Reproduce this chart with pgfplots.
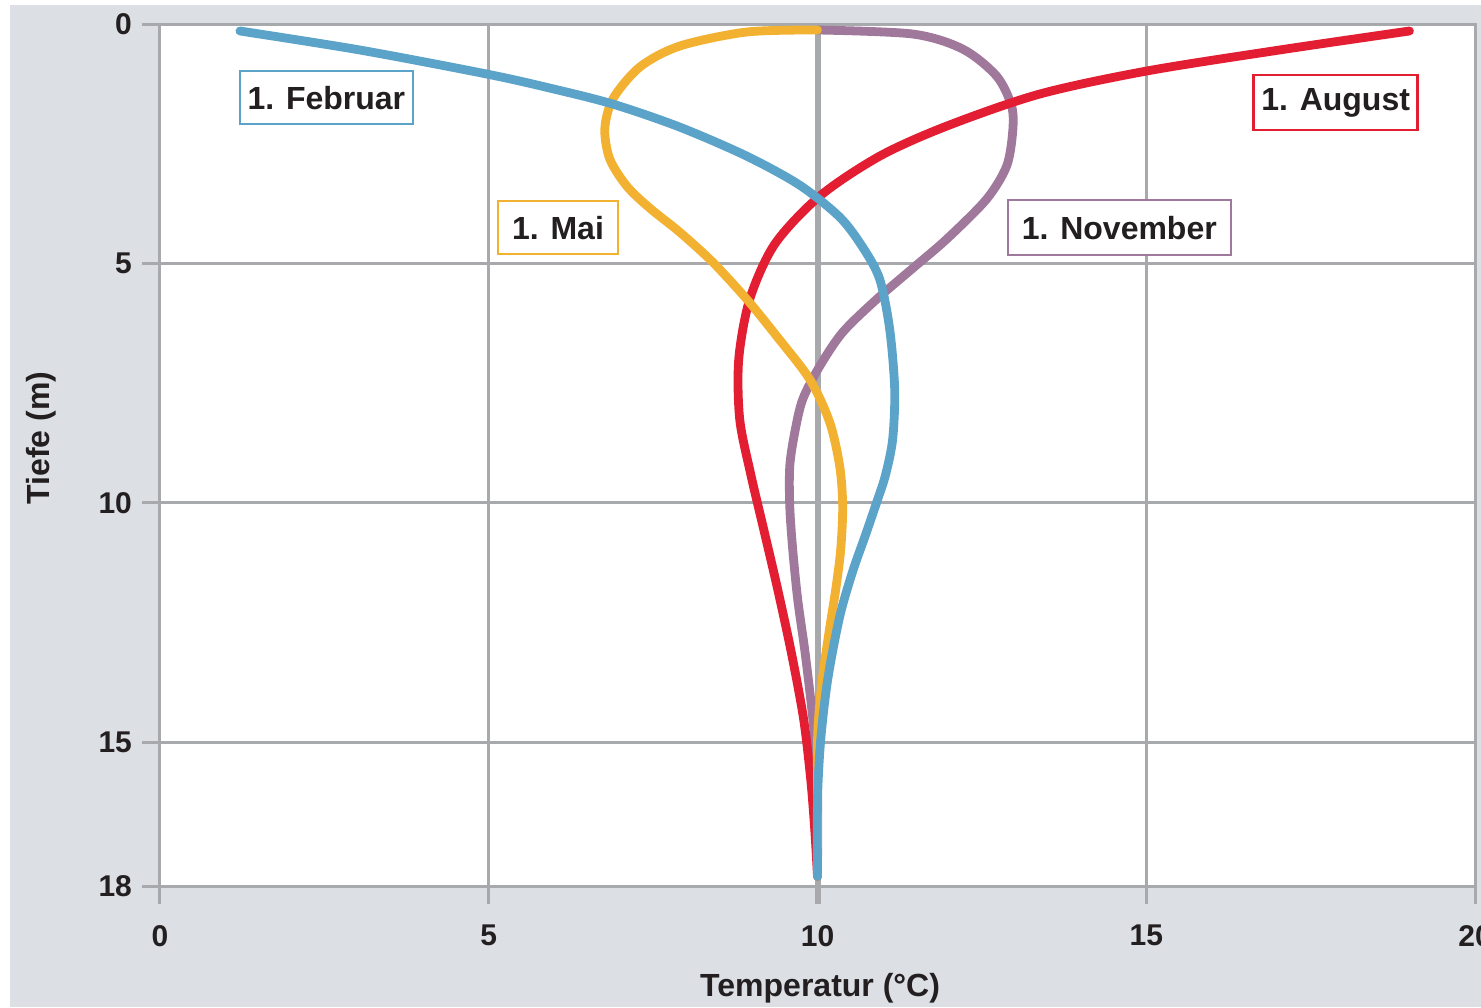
\documentclass[border=0pt]{standalone}
\usepackage{pgfplots}
\pgfplotsset{compat=1.18}
\usepackage{fontspec}
\setmainfont{Liberation Sans}
\definecolor{bg}{HTML}{DCDFE4}
\definecolor{gridc}{HTML}{A7A9AC}
\definecolor{txt}{HTML}{231F20}
\definecolor{cfeb}{HTML}{5BA3C9}
\definecolor{cmai}{HTML}{F2B131}
\definecolor{caug}{HTML}{E41E32}
\definecolor{cnov}{HTML}{A0789C}
\tikzset{lbl/.style={draw=#1, line width=1.3pt, fill=white, text=txt, font=\fontsize{16}{16}\selectfont\bfseries, inner sep=0pt, anchor=center}}
\begin{document}
\begin{tikzpicture}
\fill[bg] (-75pt,-60.5pt) rectangle (660.5pt,440.5pt);
\begin{axis}[
  at={(0,0)}, anchor=south west,
  scale only axis, width=657.5pt, height=431pt,
  xmin=0, xmax=20, ymin=0, ymax=18, y dir=reverse,
  xtick={0,5,15,20}, ytick={0,5,10,15,18},
  extra x ticks={10},
  extra x tick style={grid=major, grid style={gridc, line width=3pt}, tick style={gridc, line width=3pt}},
  grid=major, grid style={gridc, line width=1.5pt},
  axis line style={gridc, line width=1.5pt},
  tick style={gridc, line width=1.5pt},
  tick align=outside, major tick length=9pt,
  xtick pos=lower, ytick pos=left,
  axis background/.style={fill=white},
  ticklabel style={font=\fontsize{15}{15}\selectfont\bfseries, text=txt},
  xticklabel style={yshift=-7pt},
  yticklabel style={xshift=-1.5pt},
  /pgf/number format/assume math mode=true,
  xlabel={Temperatur (°C)}, ylabel={Tiefe (m)},
  label style={font=\fontsize{16}{16}\selectfont\bfseries, text=txt},
  xlabel style={at={(axis description cs:0.502,-0.1183)}, anchor=center},
  ylabel style={at={(axis description cs:-0.0905,0.5197)}, anchor=center, rotate=0},
  clip=false,
  every axis plot/.style={line width=4.4pt, line cap=round, line join=round, smooth},
]
% 1. November
\addplot[cnov] coordinates {
(10.0,0.125) (11.447,0.209) (12.207,0.522) (12.724,1.087) (12.952,1.714)
(12.968,2.257) (12.876,2.968) (12.572,3.657) (11.964,4.493) (11.432,5.120)
(10.900,5.747) (10.383,6.437) (10.033,7.147) (9.775,7.837) (9.654,8.527)
(9.578,9.237) (9.578,10.073) (9.623,10.972) (9.699,12.017) (9.805,13.062)
(9.897,14.107) (9.958,14.943) (10.0,15.987) (10.0,17.8)};
% 1. August
\addplot[caug] coordinates {
(19.003,0.146) (17.026,0.543) (15.005,0.982) (13.378,1.463) (11.964,2.132)
(10.946,2.759) (10.033,3.595) (9.349,4.598) (8.969,5.747) (8.802,7.001)
(8.817,8.255) (8.985,9.404) (9.182,10.554) (9.395,11.808) (9.608,13.166)
(9.790,14.525) (9.897,15.778) (9.958,16.823) (10.0,17.8)};
% 1. Mai
\addplot[cmai] coordinates {
(10.0,0.125) (8.924,0.167) (7.905,0.460) (7.297,0.899) (6.887,1.567)
(6.765,2.194) (6.841,2.821) (7.100,3.386) (7.449,3.845) (7.905,4.347)
(8.407,4.974) (8.924,5.747) (9.380,6.520) (9.882,7.419) (10.186,8.318)
(10.338,9.237) (10.383,10.073) (10.353,10.972) (10.277,11.808) (10.170,12.748)
(10.064,13.793) (10.003,14.838) (10.0,16.196) (10.0,17.8)};
% 1. Februar
\addplot[cfeb] coordinates {
(1.216,0.146) (3.040,0.543) (4.971,1.045) (5.929,1.338) (6.887,1.672)
(7.905,2.153) (8.924,2.759) (9.729,3.365) (10.338,4.033) (10.687,4.660)
(10.946,5.329) (11.098,6.374) (11.174,7.628) (11.143,8.673) (11.037,9.404)
(10.915,9.927) (10.733,10.658) (10.535,11.431) (10.338,12.372) (10.155,13.689)
(10.049,14.943) (10.0,16.196) (10.0,17.8)};
\node[lbl=cfeb, minimum width=86.5pt, minimum height=26.5pt] at (axis cs:2.53,1.536) {1. Februar};
\node[lbl=cmai, minimum width=60pt, minimum height=26.5pt] at (axis cs:6.053,4.253) {1. Mai};
\node[lbl=cnov, minimum width=111.5pt, minimum height=27.5pt] at (axis cs:14.59,4.253) {1. November};
\node[lbl=caug, minimum width=82pt, minimum height=27.5pt] at (axis cs:17.88,1.64) {1. August};
\end{axis}
\pgfresetboundingbox
\useasboundingbox (-80pt,-60.5pt) rectangle (660.5pt,443pt);
\end{tikzpicture}
\end{document}
